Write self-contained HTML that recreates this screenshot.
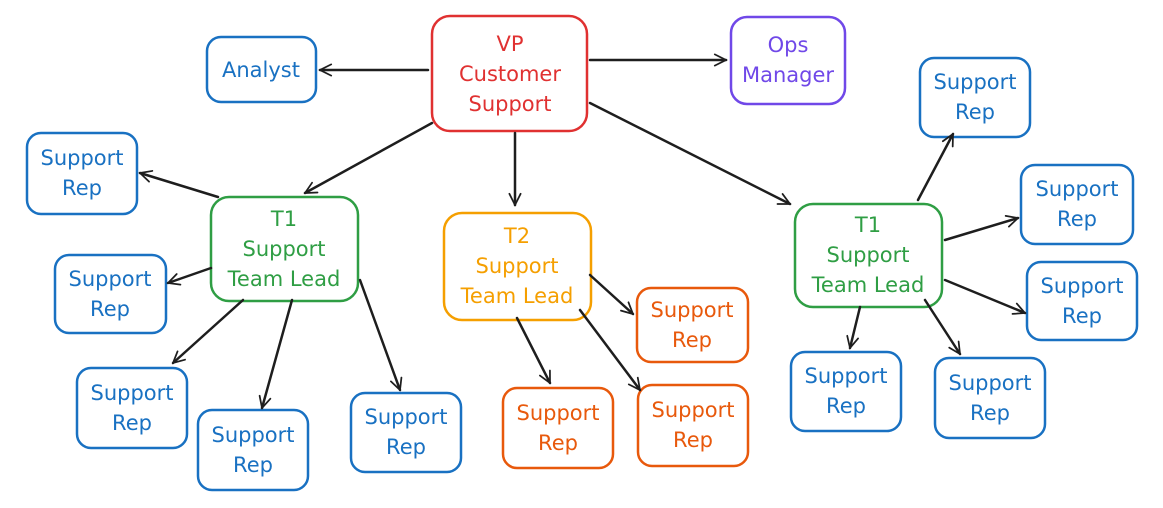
<!DOCTYPE html>
<html><head><meta charset="utf-8"><style>
html,body{margin:0;padding:0;background:#fff;}
svg{display:block;}
text{font-family:"DejaVu Sans","Liberation Sans",sans-serif;font-size:21px;text-anchor:middle;}
</style></head><body>
<svg width="1163" height="508" viewBox="0 0 1163 508" xmlns="http://www.w3.org/2000/svg">
<defs>
<marker id="a" viewBox="0 0 20 20" refX="18" refY="10" markerWidth="14" markerHeight="14" markerUnits="userSpaceOnUse" orient="auto">
<path d="M2 2 L18 10 L2 18" fill="none" stroke="#1e1e1e" stroke-width="2.5" stroke-linecap="round"/>
</marker>
</defs>
<g fill="none" stroke-width="2.5" stroke-linejoin="round">
<rect x="432" y="16" width="155" height="115" rx="18" stroke="#e03131"/>
<rect x="207" y="37" width="109" height="65" rx="14" stroke="#1971c2"/>
<rect x="731" y="17" width="114" height="87" rx="16" stroke="#7048e8"/>
<rect x="211" y="197" width="147" height="104" rx="18" stroke="#2f9e44"/>
<rect x="444" y="213" width="147" height="107" rx="18" stroke="#f59f00"/>
<rect x="795" y="204" width="147" height="103" rx="18" stroke="#2f9e44"/>
<g stroke="#1971c2">
<rect x="27" y="133" width="110" height="81" rx="14"/>
<rect x="55" y="255" width="111" height="78" rx="14"/>
<rect x="77" y="368" width="110" height="80" rx="14"/>
<rect x="198" y="410" width="110" height="80" rx="14"/>
<rect x="351" y="393" width="110" height="79" rx="14"/>
<rect x="920" y="58" width="110" height="79" rx="14"/>
<rect x="1021" y="165" width="112" height="79" rx="14"/>
<rect x="1027" y="262" width="110" height="78" rx="14"/>
<rect x="791" y="352" width="110" height="79" rx="14"/>
<rect x="935" y="358" width="110" height="80" rx="14"/>
</g>
<g stroke="#e8590c">
<rect x="637" y="288" width="111" height="74" rx="14"/>
<rect x="503" y="388" width="110" height="80" rx="14"/>
<rect x="638" y="385" width="110" height="81" rx="14"/>
</g>
</g>
<g stroke="#1e1e1e" stroke-width="2.5" fill="none" marker-end="url(#a)" stroke-linecap="round">
<line x1="432" y1="123" x2="305" y2="193"/>
<line x1="428" y1="70" x2="320" y2="70"/>
<line x1="590" y1="60" x2="726" y2="60"/>
<line x1="515" y1="133" x2="515" y2="205"/>
<line x1="590" y1="103" x2="790" y2="204"/>
<line x1="218" y1="197" x2="140" y2="173"/>
<line x1="211" y1="268" x2="168" y2="283"/>
<line x1="243" y1="300" x2="173" y2="363"/>
<line x1="292" y1="300" x2="262" y2="408"/>
<line x1="360" y1="280" x2="400" y2="390"/>
<line x1="590" y1="275" x2="633" y2="314"/>
<line x1="517" y1="318" x2="550" y2="383"/>
<line x1="580" y1="310" x2="640" y2="390"/>
<line x1="918" y1="200" x2="953" y2="134"/>
<line x1="945" y1="240" x2="1018" y2="218"/>
<line x1="945" y1="280" x2="1025" y2="313"/>
<line x1="860" y1="307" x2="850" y2="348"/>
<line x1="925" y1="300" x2="960" y2="354"/>
</g>
<g fill="#e03131"><text x="510" y="51">VP</text><text x="510" y="81">Customer</text><text x="510" y="111">Support</text></g>
<g fill="#7048e8"><text x="788" y="52">Ops</text><text x="788" y="82">Manager</text></g>
<g fill="#2f9e44">
<text x="284" y="226">T1</text><text x="284" y="256">Support</text><text x="284" y="286">Team Lead</text>
<text x="868" y="232">T1</text><text x="868" y="262">Support</text><text x="868" y="292">Team Lead</text>
</g>
<g fill="#f59f00"><text x="517" y="243">T2</text><text x="517" y="273">Support</text><text x="517" y="303">Team Lead</text></g>
<g fill="#1971c2">
<text x="261" y="77">Analyst</text>
<text x="82" y="165">Support</text><text x="82" y="195">Rep</text>
<text x="110" y="286">Support</text><text x="110" y="316">Rep</text>
<text x="132" y="400">Support</text><text x="132" y="430">Rep</text>
<text x="253" y="442">Support</text><text x="253" y="472">Rep</text>
<text x="406" y="424">Support</text><text x="406" y="454">Rep</text>
<text x="975" y="89">Support</text><text x="975" y="119">Rep</text>
<text x="1077" y="196">Support</text><text x="1077" y="226">Rep</text>
<text x="1082" y="293">Support</text><text x="1082" y="323">Rep</text>
<text x="846" y="383">Support</text><text x="846" y="413">Rep</text>
<text x="990" y="390">Support</text><text x="990" y="420">Rep</text>
</g>
<g fill="#e8590c">
<text x="692" y="317">Support</text><text x="692" y="347">Rep</text>
<text x="558" y="420">Support</text><text x="558" y="450">Rep</text>
<text x="693" y="417">Support</text><text x="693" y="447">Rep</text>
</g>
</svg>
</body></html>
